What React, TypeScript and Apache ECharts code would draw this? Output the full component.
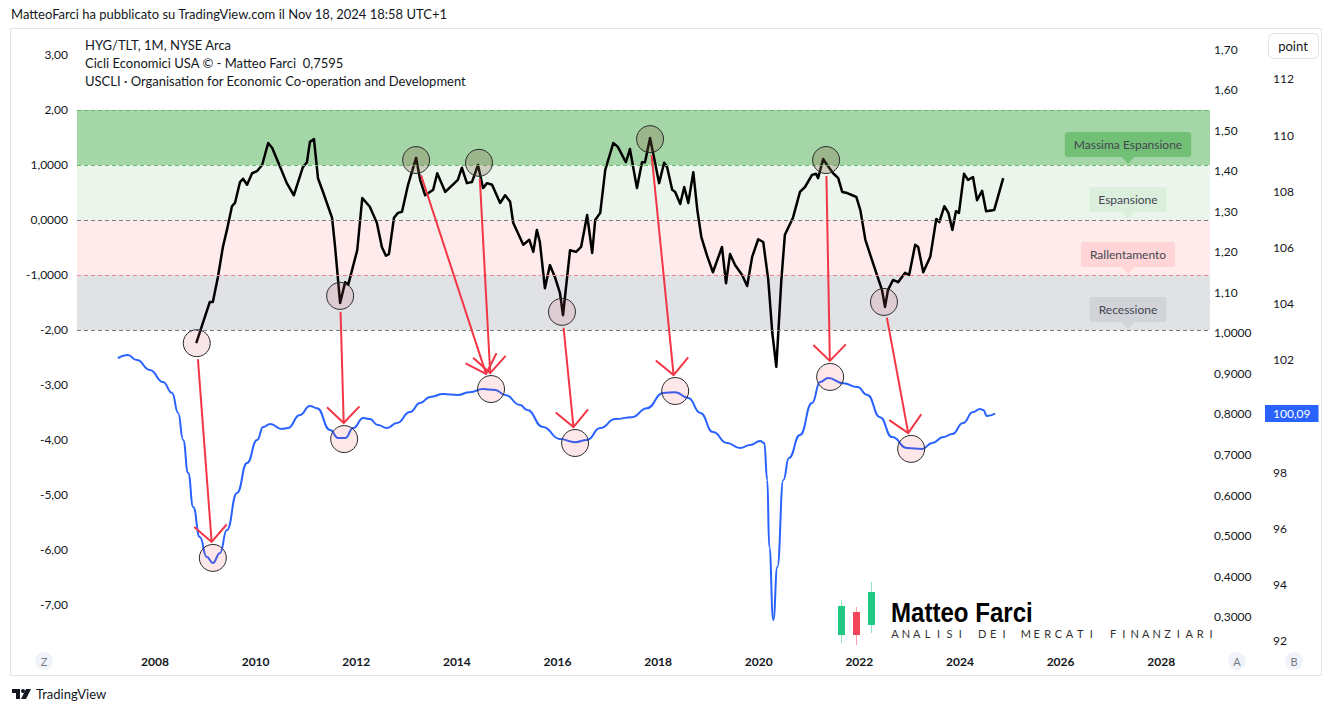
import React, { useEffect, useRef } from "react";
import * as echarts from "echarts";

// ---- Data ----
const cycleT = [2008.82, 2009.09, 2009.15, 2009.25, 2009.35, 2009.43, 2009.53, 2009.59, 2009.69, 2009.75,
  2009.83, 2009.93, 2010.03, 2010.13, 2010.25, 2010.33, 2010.49, 2010.62, 2010.76, 2010.94,
  2011.02, 2011.08, 2011.16, 2011.24, 2011.34, 2011.52, 2011.58, 2011.68, 2011.78, 2011.84,
  2012.02, 2012.12, 2012.27, 2012.41, 2012.51, 2012.59, 2012.65, 2012.75, 2012.83, 2012.91,
  2013.03, 2013.19, 2013.27, 2013.37, 2013.53, 2013.61, 2013.77, 2014.02, 2014.10, 2014.20,
  2014.30, 2014.42, 2014.52, 2014.60, 2014.70, 2014.86, 2014.96, 2015.06, 2015.12, 2015.32,
  2015.44, 2015.52, 2015.59, 2015.65, 2015.75, 2015.85, 2015.95, 2016.05, 2016.11, 2016.25,
  2016.37, 2016.47, 2016.59, 2016.69, 2016.75, 2016.85, 2016.95, 2017.11, 2017.20, 2017.36,
  2017.44, 2017.58, 2017.68, 2017.74, 2017.84, 2017.92, 2018.02, 2018.12, 2018.18, 2018.28,
  2018.34, 2018.44, 2018.52, 2018.60, 2018.70, 2018.78, 2018.86, 2018.97, 2019.09, 2019.27,
  2019.35, 2019.43, 2019.53, 2019.67, 2019.77, 2019.87, 2019.99, 2020.09, 2020.19, 2020.27,
  2020.35, 2020.45, 2020.52, 2020.68, 2020.82, 2020.92, 2021.06, 2021.14, 2021.18, 2021.28,
  2021.36, 2021.48, 2021.58, 2021.66, 2021.76, 2021.86, 2021.94, 2022.02, 2022.12, 2022.27,
  2022.45, 2022.51, 2022.57, 2022.67, 2022.77, 2022.91, 2022.99, 2023.11, 2023.17, 2023.27,
  2023.41, 2023.53, 2023.59, 2023.69, 2023.77, 2023.85, 2023.92, 2023.98, 2024.08, 2024.16,
  2024.26, 2024.34, 2024.44, 2024.52, 2024.68, 2024.86];
const cycleV = [-2.24, -1.49, -1.49, -1.04, -0.49, -0.18, 0.25, 0.31, 0.69, 0.75,
  0.64, 0.85, 0.89, 1.00, 1.40, 1.31, 0.96, 0.67, 0.45, 0.96,
  1.05, 1.42, 1.47, 0.76, 0.51, 0.04, -0.49, -1.51, -1.13, -1.18,
  -0.55, 0.40, 0.24, -0.05, -0.49, -0.65, -0.62, 0.04, 0.13, 0.15,
  0.64, 1.13, 0.73, 0.45, 0.55, 0.85, 0.51, 0.73, 0.95, 0.67,
  0.69, 1.00, 0.58, 0.67, 0.64, 0.31, 0.45, 0.33, -0.05, -0.45,
  -0.36, -0.58, -0.18, -0.40, -1.24, -0.82, -1.04, -1.33, -1.73, -0.55,
  -0.58, -0.49, 0.09, -0.60, 0.00, 0.13, 0.91, 1.40, 1.33, 1.05,
  1.29, 0.58, 1.05, 1.05, 1.49, 1.13, 0.67, 1.04, 0.96, 0.55,
  0.51, 0.29, 0.60, 0.31, 0.87, 0.18, -0.31, -0.64, -0.95, -0.49,
  -1.15, -0.62, -0.82, -1.00, -1.20, -0.67, -0.35, -0.40, -1.09, -2.05,
  -2.67, -1.09, -0.27, 0.04, 0.51, 0.60, 0.82, 0.84, 0.76, 1.11,
  1.00, 0.85, 0.76, 0.51, 0.49, 0.45, 0.42, 0.18, -0.36, -0.78,
  -1.27, -1.58, -1.27, -1.09, -1.13, -0.96, -1.00, -0.45, -0.49, -0.95,
  -0.67, 0.02, -0.04, 0.25, 0.13, -0.18, 0.16, 0.13, 0.84, 0.73,
  0.78, 0.36, 0.53, 0.16, 0.18, 0.76];

const cliT = [2007.26, 2007.46, 2007.64, 2007.90, 2008.16, 2008.34, 2008.46, 2008.56, 2008.66, 2008.76,
  2008.89, 2009.03, 2009.15, 2009.29, 2009.43, 2009.63, 2009.83, 2010.03, 2010.15, 2010.29,
  2010.52, 2010.64, 2010.88, 2011.08, 2011.22, 2011.48, 2011.64, 2011.78, 2011.94, 2012.14,
  2012.27, 2012.43, 2012.61, 2012.81, 2013.07, 2013.27, 2013.47, 2013.73, 2014.02, 2014.26,
  2014.52, 2014.76, 2014.96, 2015.26, 2015.40, 2015.71, 2016.05, 2016.35, 2016.59, 2016.85,
  2017.15, 2017.48, 2017.78, 2018.10, 2018.34, 2018.60, 2018.84, 2019.09, 2019.37, 2019.63,
  2019.83, 2020.03, 2020.11, 2020.17, 2020.21, 2020.29, 2020.37, 2020.49, 2020.60, 2020.82,
  2021.06, 2021.22, 2021.38, 2021.68, 2021.96, 2022.16, 2022.41, 2022.65, 2022.95, 2023.25,
  2023.45, 2023.67, 2023.85, 2024.06, 2024.26, 2024.40, 2024.46, 2024.54, 2024.70];
const cliV = [102.06, 102.17, 101.99, 101.64, 101.21, 100.82, 100.11, 99.15, 97.97, 96.76,
  95.69, 94.98, 94.77, 95.12, 95.94, 97.26, 98.33, 99.15, 99.61, 99.72,
  99.54, 99.57, 100.04, 100.36, 100.28, 99.50, 99.22, 99.22, 99.57, 99.93,
  99.89, 99.68, 99.57, 99.75, 100.14, 100.46, 100.68, 100.78, 100.75, 100.85,
  100.96, 100.93, 100.75, 100.39, 100.21, 99.61, 99.18, 99.07, 99.15, 99.57,
  99.89, 99.96, 100.28, 100.82, 100.85, 100.64, 100.11, 99.43, 99.04, 98.86,
  98.97, 99.11, 99.04, 97.72, 95.34, 92.74, 94.63, 97.72, 98.51, 99.32,
  100.46, 101.21, 101.35, 101.17, 101.03, 100.75, 99.96, 99.25, 98.86, 98.83,
  99.04, 99.25, 99.36, 99.75, 100.14, 100.25, 100.21, 100.00, 100.09];

const yearTicks = [2008, 2010, 2012, 2014, 2016, 2018, 2020, 2022, 2024, 2026, 2028];
const cycleTicks = [3, 2, 1, 0, -1, -2, -3, -4, -5, -6, -7];
const cycleTickLabels = ["3,00", "2,00", "1,0000", "0,0000", "-1,0000", "-2,00", "-3,00", "-4,00", "-5,00", "-6,00", "-7,00"];
const ratioTicks = [1.7, 1.6, 1.5, 1.4, 1.3, 1.2, 1.1, 1.0, 0.9, 0.8, 0.7, 0.6, 0.5, 0.4, 0.3];
const ratioTickLabels = ["1,70", "1,60", "1,50", "1,40", "1,30", "1,20", "1,10", "1,0000", "0,9000", "0,8000", "0,7000", "0,6000", "0,5000", "0,4000", "0,3000"];
const pointTicks = [112, 110, 108, 106, 104, 102, 98, 96, 94, 92];

const zoneNames = ["Massima Espansione", "Espansione", "Rallentamento", "Recessione"];
const zoneLow = [1, 0, -1, -2];
const zoneHigh = [2, 1, 0, -1];
const zoneTagT = 2027.34;

// circled turning points
const cycleMarkT = [2008.83, 2011.68, 2013.19, 2014.44, 2016.09, 2017.84, 2021.34, 2022.49];
const cycleMarkV = [-2.24, -1.38, 1.09, 1.04, -1.67, 1.47, 1.09, -1.49];
const cliMarkT = [2009.15, 2011.76, 2014.68, 2016.35, 2018.34, 2021.42, 2023.03];
const cliMarkV = [94.95, 99.18, 100.96, 99.04, 100.89, 101.39, 98.83];
const arrowFrom = [0, 1, 2, 3, 4, 5, 6, 7];
const arrowTo = [0, 1, 2, 2, 3, 4, 5, 6];

const lastCycle = "0,7595";
const lastCli = 100.09;

const FONT = "Lato, 'Liberation Sans', sans-serif";
const TXT = "#131722";

const zoneFill = ["#a5d6a7", "#ebf5ec", "#ffebec", "#e1e2e5"];
const zoneTagFill = ["#72bf76", "#dcefdd", "#ffd5d7", "#d1d3d8"];
const zoneLineColor: Record<string, string> = { "2": "#66bb6a", "1": "#66bb6a", "0": "#787b86", "-1": "#f7868c", "-2": "#787b86" };

function fmtFrom(ticks: number[], labels: string[]) {
  return (v: number) => {
    for (let i = 0; i < ticks.length; i++) if (Math.abs(ticks[i] - v) < 1e-6) return labels[i];
    return "";
  };
}

export default function App() {
  const ref = useRef<HTMLDivElement>(null);
  useEffect(() => {
    const chart = echarts.init(ref.current!, null, { renderer: "svg" });
    const yLabel = { color: TXT, fontSize: 12, fontFamily: FONT };
    const boundaryVals = [2, 1, 0, -1, -2];
    chart.setOption({
      animation: false,
      backgroundColor: "#ffffff",
      grid: { left: 77, right: 122, top: 30, bottom: 63 },
      xAxis: {
        type: "value", min: 2006.45, max: 2028.97,
        axisLine: { show: false }, axisTick: { show: false }, splitLine: { show: false },
        axisLabel: { customValues: yearTicks, formatter: (v: number) => String(v), color: TXT, fontSize: 12, fontWeight: "bold", fontFamily: FONT, margin: 5 },
      },
      yAxis: [
        {
          type: "value", position: "left", min: -7.8182, max: 3.4545,
          axisLine: { show: false }, axisTick: { show: false }, splitLine: { show: false },
          axisLabel: { ...yLabel, customValues: cycleTicks, formatter: fmtFrom(cycleTicks, cycleTickLabels), margin: 9 },
        },
        {
          type: "value", position: "right", offset: 0, min: 0.2173, max: 1.7481,
          axisLine: { show: false }, axisTick: { show: false }, splitLine: { show: false },
          axisLabel: { ...yLabel, customValues: ratioTicks, formatter: fmtFrom(ratioTicks, ratioTickLabels), margin: 4 },
        },
        {
          type: "value", position: "right", offset: 59, min: 91.673, max: 113.737,
          axisLine: { show: false }, axisTick: { show: false }, splitLine: { show: false },
          axisLabel: { ...yLabel, customValues: pointTicks, formatter: (v: number) => String(v), margin: 4 },
        },
      ],
      series: [
        {
          type: "line", name: "zones", yAxisIndex: 0, data: [], silent: true,
          markArea: {
            silent: true,
            data: zoneNames.map((n, i) => [
              { yAxis: zoneLow[i], itemStyle: { color: zoneFill[i] } },
              { yAxis: zoneHigh[i] },
            ]),
          },
          markLine: {
            silent: true, symbol: "none", label: { show: false },
            data: boundaryVals.map((v) => ({ yAxis: v, lineStyle: { color: zoneLineColor[String(v)], type: [4, 3], width: 1 } })),
          },
        },
        {
          type: "line", name: "USCLI", yAxisIndex: 2, showSymbol: false, smooth: 0.5, smoothMonotone: "x",
          data: cliT.map((t, i) => [t, cliV[i]]),
          lineStyle: { color: "#2962ff", width: 2 }, z: 3,
        },
        {
          type: "line", name: "Cicli Economici USA", yAxisIndex: 0, showSymbol: false,
          data: cycleT.map((t, i) => [t, cycleV[i]]),
          lineStyle: { color: "#000000", width: 2.5, join: "round" }, z: 4,
        },
      ],
    });

    const px = (axis: number, t: number, v: number) =>
      chart.convertToPixel({ xAxisIndex: 0, yAxisIndex: axis }, [t, v]) as number[];

    const g: any[] = [];
    // pane frame
    g.push({ type: "rect", shape: { x: 10.5, y: 28.5, width: 1311, height: 647 }, style: { fill: "none", stroke: "#e0e3eb", lineWidth: 1 }, z: 1 });
    // header
    g.push({ type: "text", x: 11, y: 14, style: { text: "MatteoFarci ha pubblicato su TradingView.com il Nov 18, 2024 18:58 UTC+1", fill: TXT, font: `13px ${FONT}`, verticalAlign: "middle" } });
    const legend = ["HYG/TLT, 1M, NYSE Arca", `Cicli Economici USA © - Matteo Farci  ${lastCycle}`, "USCLI · Organisation for Economic Co-operation and Development"];
    legend.forEach((s, i) => g.push({ type: "text", x: 85, y: 45 + i * 18, z: 20, style: { text: s, fill: TXT, font: `13px ${FONT}`, verticalAlign: "middle" } }));

    // zone tags
    zoneNames.forEach((n, i) => {
      const p = px(0, zoneTagT, zoneLow[i]);
      g.push({ type: "polygon", z: 15, shape: { points: [[p[0] - 7, p[1] - 9], [p[0] + 7, p[1] - 9], [p[0], p[1] - 1]] }, style: { fill: zoneTagFill[i] } });
      g.push({
        type: "text", z: 15, x: p[0], y: p[1] - 8,
        style: { text: n, fill: "#434651", font: `12px ${FONT}`, align: "center", verticalAlign: "bottom", backgroundColor: zoneTagFill[i], padding: [7, 9, 6, 9], borderRadius: 3 },
      });
    });

    // arrows
    arrowFrom.forEach((fi, k) => {
      const a = px(0, cycleMarkT[fi], cycleMarkV[fi]);
      const b = px(2, cliMarkT[arrowTo[k]], cliMarkV[arrowTo[k]]);
      const dx = b[0] - a[0], dy = b[1] - a[1], L = Math.hypot(dx, dy), ux = dx / L, uy = dy / L;
      const s = [a[0] + ux * 16, a[1] + uy * 16];
      const e = [b[0] - ux * 16, b[1] - uy * 16];
      const wing = (ang: number) => {
        const c = Math.cos(ang), sn = Math.sin(ang);
        const bx = -ux, by = -uy;
        return [e[0] + 23 * (bx * c - by * sn), e[1] + 23 * (bx * sn + by * c)];
      };
      g.push({ type: "line", z: 12, shape: { x1: s[0], y1: s[1], x2: e[0], y2: e[1] }, style: { stroke: "#f23645", lineWidth: 2 } });
      g.push({ type: "polyline", z: 12, shape: { points: [wing(Math.PI / 4), e, wing(-Math.PI / 4)] }, style: { stroke: "#f23645", lineWidth: 2, fill: "none" } });
    });

    // circles
    cycleMarkT.forEach((t, i) => {
      const p = px(0, t, cycleMarkV[i]);
      const top = cycleMarkV[i] > 1;
      g.push({ type: "circle", z: 11, shape: { cx: p[0], cy: p[1], r: 13.5 }, style: { fill: top ? "rgba(130,100,70,0.28)" : "rgba(200,80,95,0.15)", stroke: "#2a2a2a", lineWidth: 1 } });
    });
    cliMarkT.forEach((t, i) => {
      const p = px(2, t, cliMarkV[i]);
      g.push({ type: "circle", z: 11, shape: { cx: p[0], cy: p[1], r: 13.5 }, style: { fill: "rgba(242,54,69,0.12)", stroke: "#2a2a2a", lineWidth: 1 } });
    });

    // right scale chrome
    g.push({ type: "rect", z: 20, shape: { x: 1268.5, y: 33.5, width: 50, height: 25, r: 5 }, style: { fill: "#fff", stroke: "#e0e3eb", lineWidth: 1 } });
    g.push({ type: "text", z: 21, x: 1293, y: 46, style: { text: "point", fill: TXT, font: `13px ${FONT}`, align: "center", verticalAlign: "middle" } });
    const lp = px(2, 2020, lastCli);
    g.push({ type: "text", z: 21, x: 1265, y: lp[1], style: { text: String(lastCli).replace(".", ","), fill: "#fff", font: `12px ${FONT}`, verticalAlign: "middle", backgroundColor: "#2962ff", padding: [3, 8, 2, 8] } });

    // scale buttons
    [["Z", 44], ["A", 1237], ["B", 1294]].forEach(([s, x]) => {
      g.push({ type: "circle", z: 20, shape: { cx: x as number, cy: 661, r: 9 }, style: { fill: "#f0f3fa" } });
      g.push({ type: "text", z: 21, x: x as number, y: 661, style: { text: s as string, fill: "#787b86", font: `11px ${FONT}`, align: "center", verticalAlign: "middle" } });
    });

    // TradingView footer
    g.push({ type: "rect", z: 20, shape: { x: 12, y: 689, width: 8, height: 4 }, style: { fill: TXT } });
    g.push({ type: "rect", z: 20, shape: { x: 16, y: 689, width: 4, height: 10 }, style: { fill: TXT } });
    g.push({ type: "circle", z: 20, shape: { cx: 23, cy: 691, r: 2 }, style: { fill: TXT } });
    g.push({ type: "polygon", z: 20, shape: { points: [[26, 689], [31, 689], [26, 699], [21, 699]] }, style: { fill: TXT } });
    g.push({ type: "text", z: 20, x: 36, y: 694, style: { text: "TradingView", fill: TXT, font: `13px ${FONT}`, verticalAlign: "middle" } });

    // watermark logo
    const candles = [
      { x: 838, wt: 600, wb: 643, bt: 606, bb: 635, c: "#22c983" },
      { x: 853, wt: 607, wb: 645, bt: 612, bb: 635, c: "#f2445a" },
      { x: 868, wt: 582, wb: 633, bt: 592, bb: 625, c: "#22c983" },
    ];
    candles.forEach((c) => {
      g.push({ type: "line", z: 8, shape: { x1: c.x + 3.5, y1: c.wt, x2: c.x + 3.5, y2: c.wb }, style: { stroke: c.c, lineWidth: 1, opacity: 0.5 } });
      g.push({ type: "rect", z: 8, shape: { x: c.x, y: c.bt, width: 7, height: c.bb - c.bt }, style: { fill: c.c } });
    });
    g.push({ type: "text", z: 8, x: 891, y: 612, scaleX: 0.86, style: { text: "Matteo Farci", fill: "#000", font: `bold 28px 'Liberation Sans', sans-serif`, verticalAlign: "middle" } });
    const sub = "ANALISI DEI MERCATI FINANZIARI";
    for (let i = 0; i < sub.length; i++) {
      if (sub[i] === " ") continue;
      g.push({ type: "text", z: 8, x: 895 + i * 10.9, y: 633, style: { text: sub[i], fill: "#333", font: `11px ${FONT}`, align: "center", verticalAlign: "middle" } });
    }

    chart.setOption({ graphic: g });
    return () => chart.dispose();
  }, []);
  return <div ref={ref} style={{ position: "absolute", left: 0, top: 0, width: 1332, height: 713, background: "#fff" }} />;
}
